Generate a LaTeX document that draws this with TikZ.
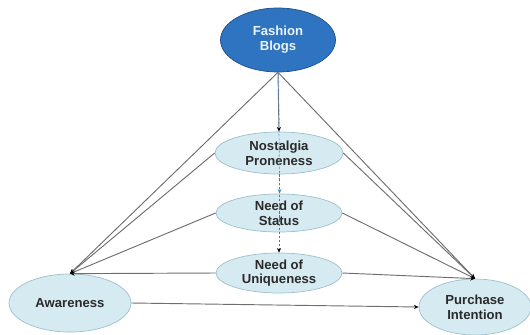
\documentclass[tikz,border=0pt]{standalone}
\usepackage{fontspec}
\setmainfont{Liberation Sans}
\usetikzlibrary{shapes.geometric,arrows.meta}
\definecolor{bluefill}{HTML}{2F74C0}
\definecolor{blueedge}{HTML}{1F4F8A}
\definecolor{lightfill}{HTML}{D6EAF1}
\definecolor{lightedge}{HTML}{9CC0CC}
\definecolor{linegray}{HTML}{6E6E6E}
\definecolor{textdark}{HTML}{2A2A2A}
\definecolor{dashblue}{HTML}{5B8FD0}
\definecolor{fbtext}{HTML}{EAF2FB}
\tikzset{
  lab/.style={font=\fontsize{11.2}{12.6}\selectfont\bfseries, align=center, inner sep=0pt},
  topell/.style={ellipse, lab, fill=bluefill, draw=blueedge, line width=0.6pt, text=fbtext},
  ell/.style={ellipse, lab, fill=lightfill, draw=lightedge, line width=0.6pt, text=textdark},
  conn/.style={draw=linegray, line width=0.8pt},
  tip/.style={-{Stealth[length=4pt,width=3.5pt,color=black]}},
}
\begin{document}
\begin{tikzpicture}[x=0.03cm,y=-0.03cm]
\useasboundingbox (0,0) rectangle (530,334);
% nodes (pixel coordinates of the reference)
\node[topell, minimum width=3.45cm, minimum height=1.92cm] (fb) at (278,40) {Fashion\\Blogs};
\node[ell, minimum width=3.84cm, minimum height=1.26cm] (np) at (279,153) {Nostalgia\\Proneness};
\node[ell, minimum width=3.78cm, minimum height=1.14cm] (ns) at (279,213) {Need of\\Status};
\node[ell, minimum width=3.78cm, minimum height=1.2cm] (nu) at (279,273) {Need of\\Uniqueness};
\node[ell, minimum width=3.66cm, minimum height=1.74cm] (aw) at (70,303) {Awareness};
\node[ell, minimum width=3.36cm, minimum height=1.68cm] (pi) at (475,307) {Purchase\\Intention};
% connectors
\draw[conn,tip] (fb.south) -- (aw.north);
\draw[conn,tip] (fb.south) -- (pi.north);
\draw[conn,tip] (np.west) -- (aw.north);
\draw[conn,tip] (np.east) -- (pi.north);
\draw[conn,tip] (ns.west) -- (aw.north);
\draw[conn,tip] (ns.east) -- (pi.north);
\draw[conn,tip] (nu.west) -- (aw.north);
\draw[conn,tip] (nu.east) -- (pi.north);
\draw[conn,tip] (aw.east) -- (pi.west);
\draw[conn,tip] (fb.south) -- (np.north);
\draw[draw=dashblue, line width=0.6pt, dash pattern=on 2pt off 1.5pt, -{Stealth[length=4pt,width=3.5pt]}] ([xshift=0.5pt]fb.south) -- ([xshift=0.5pt]ns.north);
\draw[draw=linegray, line width=0.5pt, dash pattern=on 2pt off 1.5pt, tip] (np.south) -- (nu.north);
\end{tikzpicture}
\end{document}
